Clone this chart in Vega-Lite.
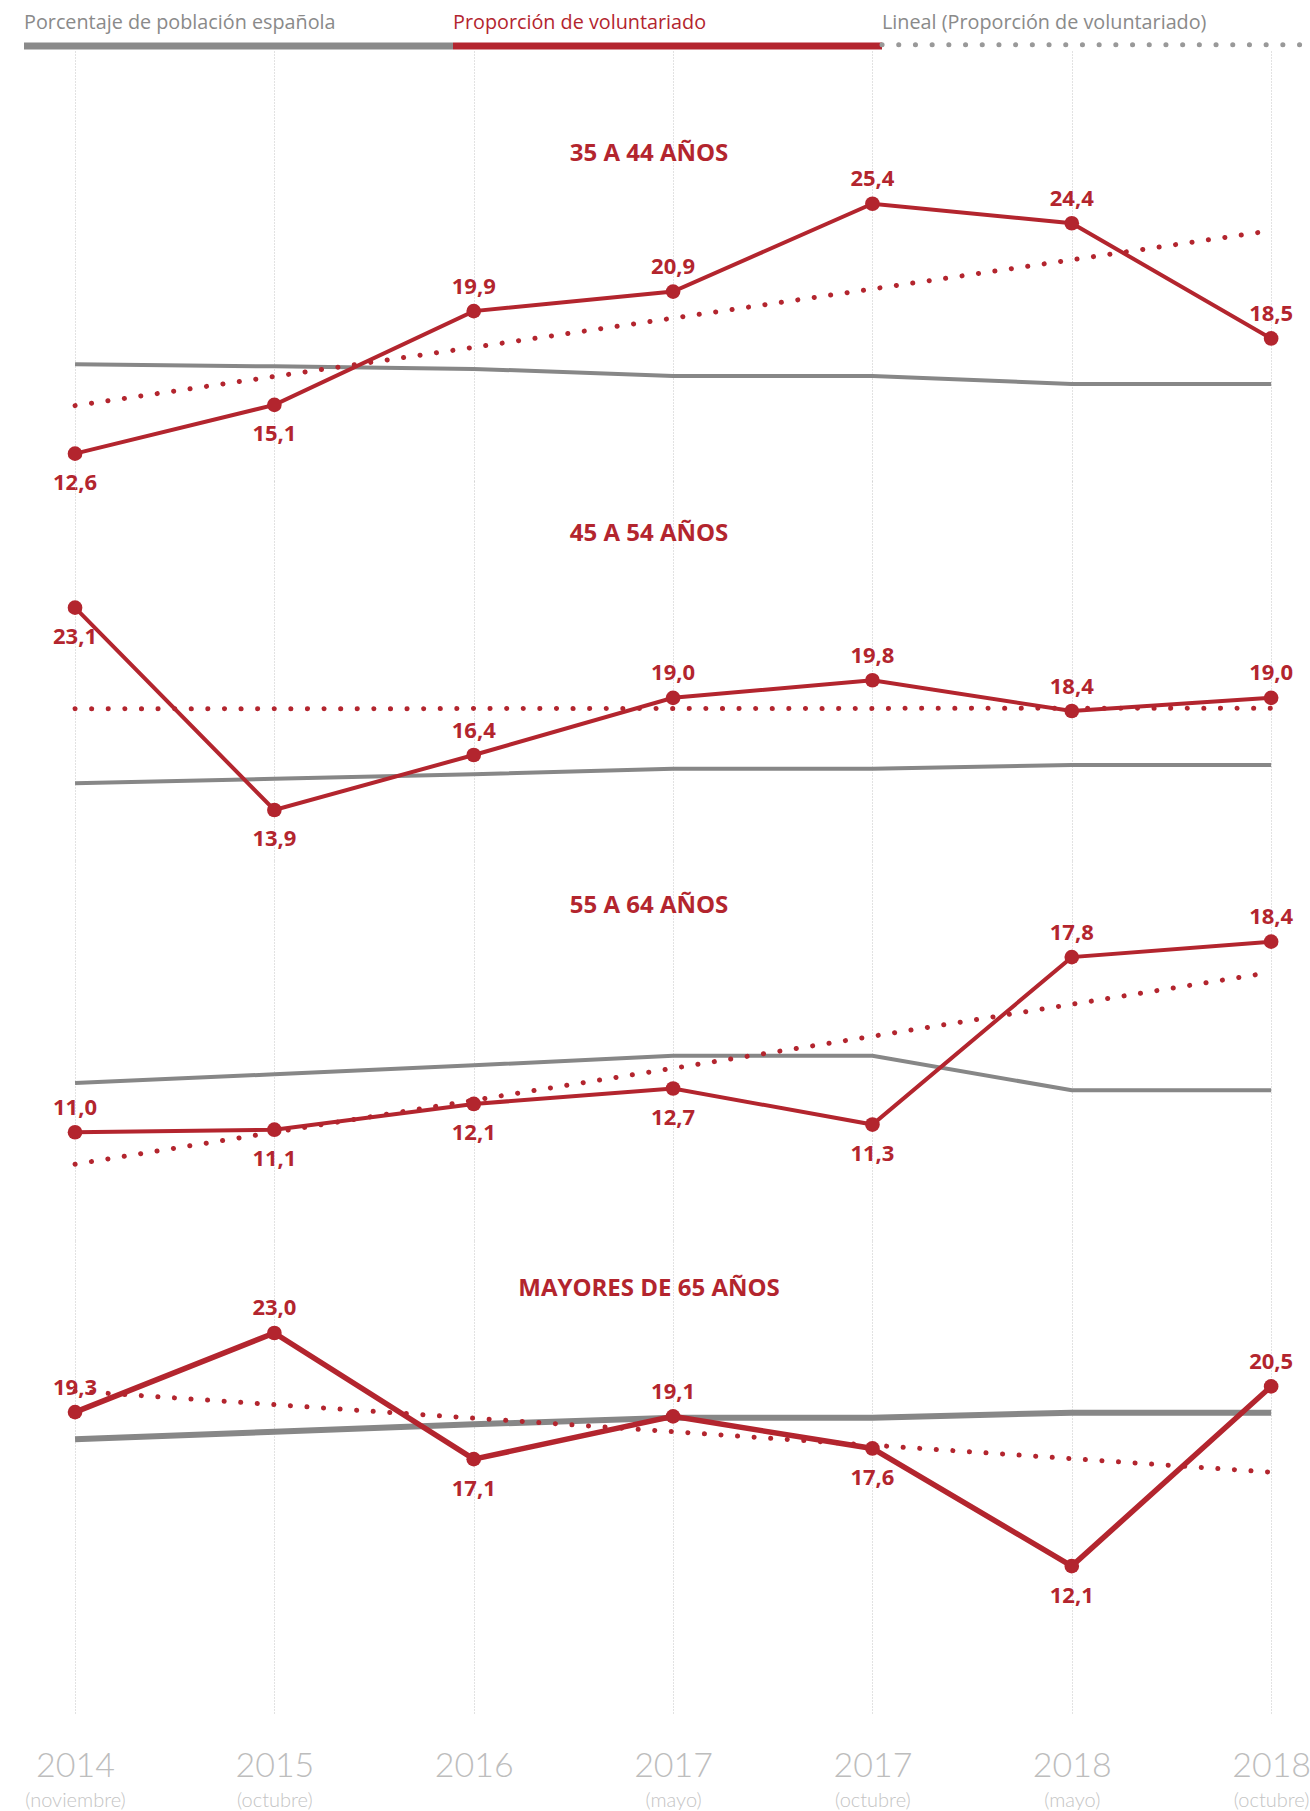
{
  "$schema": "https://vega.github.io/schema/vega-lite/v6.json",
  "background": "white",
  "padding": {"left": 23, "right": 0, "top": 0, "bottom": 2},
  "spacing": 0,
  "bounds": "flush",
  "resolve": {"scale": {"x": "independent", "y": "independent", "color": "independent"}},
  "config": {
    "view": {"stroke": "transparent"},
    "locale": {"number": {"decimal": ",", "thousands": ".", "grouping": [3], "currency": ["", " €"]}},
    "axisX": {"grid": true, "gridDash": [1, 2], "gridColor": "#c4c4c4", "gridWidth": 1, "domain": false, "ticks": false, "tickSize": 0, "labels": false}
  },
  "datasets": {
    "leyenda": [
      {"serie": "Porcentaje de población española"},
      {"serie": "Proporción de voluntariado"},
      {"serie": "Lineal (Proporción de voluntariado)"}
    ],
    "series": [
      {"panel": "35 A 44 AÑOS", "i": 0, "periodo": "2014 (noviembre)", "voluntariado": 12.6, "poblacion": 17.18},
      {"panel": "35 A 44 AÑOS", "i": 1, "periodo": "2015 (octubre)", "voluntariado": 15.1, "poblacion": 17.07},
      {"panel": "35 A 44 AÑOS", "i": 2, "periodo": "2016", "voluntariado": 19.9, "poblacion": 16.94},
      {"panel": "35 A 44 AÑOS", "i": 3, "periodo": "2017 (mayo)", "voluntariado": 20.9, "poblacion": 16.58},
      {"panel": "35 A 44 AÑOS", "i": 4, "periodo": "2017 (octubre)", "voluntariado": 25.4, "poblacion": 16.58},
      {"panel": "35 A 44 AÑOS", "i": 5, "periodo": "2018 (mayo)", "voluntariado": 24.4, "poblacion": 16.17},
      {"panel": "35 A 44 AÑOS", "i": 6, "periodo": "2018 (octubre)", "voluntariado": 18.5, "poblacion": 16.17},
      {"panel": "45 A 54 AÑOS", "i": 0, "periodo": "2014 (noviembre)", "voluntariado": 23.1, "poblacion": 15.11},
      {"panel": "45 A 54 AÑOS", "i": 1, "periodo": "2015 (octubre)", "voluntariado": 13.9, "poblacion": 15.32},
      {"panel": "45 A 54 AÑOS", "i": 2, "periodo": "2016", "voluntariado": 16.4, "poblacion": 15.52},
      {"panel": "45 A 54 AÑOS", "i": 3, "periodo": "2017 (mayo)", "voluntariado": 19.0, "poblacion": 15.78},
      {"panel": "45 A 54 AÑOS", "i": 4, "periodo": "2017 (octubre)", "voluntariado": 19.8, "poblacion": 15.78},
      {"panel": "45 A 54 AÑOS", "i": 5, "periodo": "2018 (mayo)", "voluntariado": 18.4, "poblacion": 15.95},
      {"panel": "45 A 54 AÑOS", "i": 6, "periodo": "2018 (octubre)", "voluntariado": 19.0, "poblacion": 15.95},
      {"panel": "55 A 64 AÑOS", "i": 0, "periodo": "2014 (noviembre)", "voluntariado": 11.0, "poblacion": 12.91},
      {"panel": "55 A 64 AÑOS", "i": 1, "periodo": "2015 (octubre)", "voluntariado": 11.1, "poblacion": 13.25},
      {"panel": "55 A 64 AÑOS", "i": 2, "periodo": "2016", "voluntariado": 12.1, "poblacion": 13.6},
      {"panel": "55 A 64 AÑOS", "i": 3, "periodo": "2017 (mayo)", "voluntariado": 12.7, "poblacion": 13.97},
      {"panel": "55 A 64 AÑOS", "i": 4, "periodo": "2017 (octubre)", "voluntariado": 11.3, "poblacion": 13.97},
      {"panel": "55 A 64 AÑOS", "i": 5, "periodo": "2018 (mayo)", "voluntariado": 17.8, "poblacion": 12.63},
      {"panel": "55 A 64 AÑOS", "i": 6, "periodo": "2018 (octubre)", "voluntariado": 18.4, "poblacion": 12.63},
      {"panel": "MAYORES DE 65 AÑOS", "i": 0, "periodo": "2014 (noviembre)", "voluntariado": 19.3, "poblacion": 18.03},
      {"panel": "MAYORES DE 65 AÑOS", "i": 1, "periodo": "2015 (octubre)", "voluntariado": 23.0, "poblacion": 18.38},
      {"panel": "MAYORES DE 65 AÑOS", "i": 2, "periodo": "2016", "voluntariado": 17.1, "poblacion": 18.73},
      {"panel": "MAYORES DE 65 AÑOS", "i": 3, "periodo": "2017 (mayo)", "voluntariado": 19.1, "poblacion": 19.04},
      {"panel": "MAYORES DE 65 AÑOS", "i": 4, "periodo": "2017 (octubre)", "voluntariado": 17.6, "poblacion": 19.04},
      {"panel": "MAYORES DE 65 AÑOS", "i": 5, "periodo": "2018 (mayo)", "voluntariado": 12.1, "poblacion": 19.27},
      {"panel": "MAYORES DE 65 AÑOS", "i": 6, "periodo": "2018 (octubre)", "voluntariado": 20.5, "poblacion": 19.27}
    ],
    "tendencia": [
      {"panel": "35 A 44 AÑOS", "i": 0, "lineal": 15.06},
      {"panel": "35 A 44 AÑOS", "i": 6, "lineal": 24.02},
      {"panel": "45 A 54 AÑOS", "i": 0, "lineal": 18.5},
      {"panel": "45 A 54 AÑOS", "i": 6, "lineal": 18.53},
      {"panel": "55 A 64 AÑOS", "i": 0, "lineal": 9.76},
      {"panel": "55 A 64 AÑOS", "i": 6, "lineal": 17.21},
      {"panel": "MAYORES DE 65 AÑOS", "i": 0, "lineal": 20.28},
      {"panel": "MAYORES DE 65 AÑOS", "i": 6, "lineal": 16.49}
    ]
  },
  "vconcat": [
    {
      "width": 1287,
      "height": 50,
      "data": {"name": "leyenda"},
      "layer": [
        {
          "mark": {"type": "text", "align": "left", "baseline": "alphabetic", "font": "Open Sans", "fontSize": 19.8},
          "encoding": {
            "x": {"field": "serie", "type": "nominal", "sort": null, "bandPosition": 0, "scale": {"padding": 0}, "axis": null},
            "y": {"datum": 4.46, "type": "quantitative", "scale": {"domain": [0, 10], "nice": false, "zero": false}, "axis": null},
            "text": {"field": "serie", "type": "nominal"},
            "color": {"field": "serie", "type": "nominal", "sort": null, "scale": {"domain": ["Porcentaje de población española", "Proporción de voluntariado", "Lineal (Proporción de voluntariado)"], "range": ["#8a8a8a", "#b3252e", "#8a8a8a"]}, "legend": null}
          }
        },
        {
          "transform": [{"filter": "datum.serie !== 'Lineal (Proporción de voluntariado)'"}],
          "mark": {"type": "bar"},
          "encoding": {
            "x": {"field": "serie", "type": "nominal", "sort": null, "axis": null},
            "y": {"datum": 1.7, "type": "quantitative"},
            "y2": {"datum": 0.3},
            "color": {"field": "serie", "type": "nominal", "sort": null, "scale": {"domain": ["Porcentaje de población española", "Proporción de voluntariado", "Lineal (Proporción de voluntariado)"], "range": ["#878787", "#b3252e", "#9a9a9a"]}, "legend": null}
          }
        },
        {
          "transform": [{"filter": "datum.serie === 'Lineal (Proporción de voluntariado)'"}],
          "mark": {"type": "rule", "color": "#999999", "strokeWidth": 5, "strokeDash": [0.1, 16.6], "strokeCap": "round"},
          "encoding": {
            "x": {"field": "serie", "type": "nominal", "sort": null, "bandPosition": 0, "axis": null},
            "x2": {"field": "serie", "bandPosition": 1},
            "y": {"datum": 1.26, "type": "quantitative"}
          }
        }
      ]
    },
    {
      "width": 1287,
      "height": 430,
      "title": {"text": "35 A 44 AÑOS", "anchor": "middle", "frame": "group", "orient": "top", "offset": -133.7, "dx": -18.5, "baseline": "alphabetic", "font": "Open Sans", "fontSize": 24, "fontWeight": "bold", "color": "#b3252e"},
      "data": {"name": "series"},
      "transform": [{"filter": "datum.panel === '35 A 44 AÑOS'"}],
      "encoding": {
        "x": {"field": "i", "type": "quantitative", "scale": {"domain": [-0.256, 6.2], "nice": false, "zero": false}, "axis": {"values": [0, 1, 2, 3, 4, 5, 6], "title": null}}
      },
      "layer": [
        {"mark": {"type": "line", "color": "#878787", "strokeWidth": 4}, "encoding": {"y": {"field": "poblacion", "type": "quantitative", "scale": {"domain": [11.2, 33.22], "nice": false, "zero": false}, "axis": null}}},
        {"data": {"name": "tendencia"}, "transform": [{"filter": "datum.panel === '35 A 44 AÑOS'"}], "mark": {"type": "line", "color": "#b3252e", "strokeWidth": 5, "strokeDash": [0.1, 16.5], "strokeCap": "round"}, "encoding": {"y": {"field": "lineal", "type": "quantitative", "axis": null}}},
        {"mark": {"type": "line", "color": "#b3252e", "strokeWidth": 4}, "encoding": {"y": {"field": "voluntariado", "type": "quantitative", "axis": null}}},
        {"mark": {"type": "circle", "color": "#b3252e", "size": 215, "opacity": 1}, "encoding": {"y": {"field": "voluntariado", "type": "quantitative", "axis": null}}},
        {"transform": [{"filter": "indexof([0, 1], datum.i) < 0"}], "mark": {"type": "text", "color": "#b3252e", "font": "Open Sans", "fontSize": 22, "fontWeight": "bold", "baseline": "alphabetic", "dy": -17.5}, "encoding": {"y": {"field": "voluntariado", "type": "quantitative", "axis": null}, "text": {"field": "voluntariado", "type": "quantitative", "format": ".1f"}}},
        {"transform": [{"filter": "indexof([0, 1], datum.i) >= 0"}], "mark": {"type": "text", "color": "#b3252e", "font": "Open Sans", "fontSize": 22, "fontWeight": "bold", "baseline": "alphabetic", "dy": 36.5}, "encoding": {"y": {"field": "voluntariado", "type": "quantitative", "axis": null}, "text": {"field": "voluntariado", "type": "quantitative", "format": ".1f"}}}
      ]
    },
    {
      "width": 1287,
      "height": 380,
      "title": {"text": "45 A 54 AÑOS", "anchor": "middle", "frame": "group", "orient": "top", "offset": -83.5, "dx": -18.5, "baseline": "alphabetic", "font": "Open Sans", "fontSize": 24, "fontWeight": "bold", "color": "#b3252e"},
      "data": {"name": "series"},
      "transform": [{"filter": "datum.panel === '45 A 54 AÑOS'"}],
      "encoding": {
        "x": {"field": "i", "type": "quantitative", "scale": {"domain": [-0.256, 6.2], "nice": false, "zero": false}, "axis": {"values": [0, 1, 2, 3, 4, 5, 6], "title": null}}
      },
      "layer": [
        {"mark": {"type": "line", "color": "#878787", "strokeWidth": 4}, "encoding": {"y": {"field": "poblacion", "type": "quantitative", "scale": {"domain": [11.58, 28.86], "nice": false, "zero": false}, "axis": null}}},
        {"data": {"name": "tendencia"}, "transform": [{"filter": "datum.panel === '45 A 54 AÑOS'"}], "mark": {"type": "line", "color": "#b3252e", "strokeWidth": 5, "strokeDash": [0.1, 16.5], "strokeCap": "round"}, "encoding": {"y": {"field": "lineal", "type": "quantitative", "axis": null}}},
        {"mark": {"type": "line", "color": "#b3252e", "strokeWidth": 4}, "encoding": {"y": {"field": "voluntariado", "type": "quantitative", "axis": null}}},
        {"mark": {"type": "circle", "color": "#b3252e", "size": 215, "opacity": 1}, "encoding": {"y": {"field": "voluntariado", "type": "quantitative", "axis": null}}},
        {"transform": [{"filter": "indexof([0, 1], datum.i) < 0"}], "mark": {"type": "text", "color": "#b3252e", "font": "Open Sans", "fontSize": 22, "fontWeight": "bold", "baseline": "alphabetic", "dy": -17.5}, "encoding": {"y": {"field": "voluntariado", "type": "quantitative", "axis": null}, "text": {"field": "voluntariado", "type": "quantitative", "format": ".1f"}}},
        {"transform": [{"filter": "indexof([0, 1], datum.i) >= 0"}], "mark": {"type": "text", "color": "#b3252e", "font": "Open Sans", "fontSize": 22, "fontWeight": "bold", "baseline": "alphabetic", "dy": 36.5}, "encoding": {"y": {"field": "voluntariado", "type": "quantitative", "axis": null}, "text": {"field": "voluntariado", "type": "quantitative", "format": ".1f"}}}
      ]
    },
    {
      "width": 1287,
      "height": 380,
      "title": {"text": "55 A 64 AÑOS", "anchor": "middle", "frame": "group", "orient": "top", "offset": -75.8, "dx": -18.5, "baseline": "alphabetic", "font": "Open Sans", "fontSize": 24, "fontWeight": "bold", "color": "#b3252e"},
      "data": {"name": "series"},
      "transform": [{"filter": "datum.panel === '55 A 64 AÑOS'"}],
      "encoding": {
        "x": {"field": "i", "type": "quantitative", "scale": {"domain": [-0.256, 6.2], "nice": false, "zero": false}, "axis": {"values": [0, 1, 2, 3, 4, 5, 6], "title": null}}
      },
      "layer": [
        {"mark": {"type": "line", "color": "#878787", "strokeWidth": 4}, "encoding": {"y": {"field": "poblacion", "type": "quantitative", "scale": {"domain": [6.78, 21.53], "nice": false, "zero": false}, "axis": null}}},
        {"data": {"name": "tendencia"}, "transform": [{"filter": "datum.panel === '55 A 64 AÑOS'"}], "mark": {"type": "line", "color": "#b3252e", "strokeWidth": 5, "strokeDash": [0.1, 16.5], "strokeCap": "round"}, "encoding": {"y": {"field": "lineal", "type": "quantitative", "axis": null}}},
        {"mark": {"type": "line", "color": "#b3252e", "strokeWidth": 4}, "encoding": {"y": {"field": "voluntariado", "type": "quantitative", "axis": null}}},
        {"mark": {"type": "circle", "color": "#b3252e", "size": 215, "opacity": 1}, "encoding": {"y": {"field": "voluntariado", "type": "quantitative", "axis": null}}},
        {"transform": [{"filter": "indexof([1, 2, 3, 4], datum.i) < 0"}], "mark": {"type": "text", "color": "#b3252e", "font": "Open Sans", "fontSize": 22, "fontWeight": "bold", "baseline": "alphabetic", "dy": -17.5}, "encoding": {"y": {"field": "voluntariado", "type": "quantitative", "axis": null}, "text": {"field": "voluntariado", "type": "quantitative", "format": ".1f"}}},
        {"transform": [{"filter": "indexof([1, 2, 3, 4], datum.i) >= 0"}], "mark": {"type": "text", "color": "#b3252e", "font": "Open Sans", "fontSize": 22, "fontWeight": "bold", "baseline": "alphabetic", "dy": 36.5}, "encoding": {"y": {"field": "voluntariado", "type": "quantitative", "axis": null}, "text": {"field": "voluntariado", "type": "quantitative", "format": ".1f"}}}
      ]
    },
    {
      "width": 1287,
      "height": 472,
      "title": {"text": "MAYORES DE 65 AÑOS", "anchor": "middle", "frame": "group", "orient": "top", "offset": -78.8, "dx": -18.5, "baseline": "alphabetic", "font": "Open Sans", "fontSize": 24, "fontWeight": "bold", "color": "#b3252e"},
      "resolve": {"axis": {"x": "independent"}},
      "layer": [
        {
          "data": {"name": "series"},
          "transform": [{"filter": "datum.panel === 'MAYORES DE 65 AÑOS'"}],
          "mark": {"type": "line", "color": "#878787", "strokeWidth": 6},
          "encoding": {
            "x": {"field": "i", "type": "quantitative", "scale": {"domain": [-0.256, 6.2], "nice": false, "zero": false}, "axis": {"orient": "bottom", "values": [0, 1, 2, 3, 4, 5, 6], "title": null, "grid": false, "labels": true, "labelExpr": "['(noviembre)', '(octubre)', '', '(mayo)', '(octubre)', '(mayo)', '(octubre)'][datum.value]", "labelFont": "Lato", "labelFontWeight": 300, "labelFontSize": 20, "labelColor": "#c4c4c4", "labelPadding": 93, "labelBaseline": "alphabetic", "labelFlush": false, "labelOverlap": false}},
            "y": {"field": "poblacion", "type": "quantitative", "scale": {"domain": [5.23, 27.3], "nice": false, "zero": false}, "axis": null}
          }
        },
        {
          "data": {"name": "series"},
          "transform": [{"filter": "datum.panel === 'MAYORES DE 65 AÑOS'"}],
          "encoding": {
            "x": {"field": "i", "type": "quantitative", "axis": {"orient": "bottom", "values": [0, 1, 2, 3, 4, 5, 6], "title": null, "grid": true, "labels": true, "labelExpr": "['2014', '2015', '2016', '2017', '2017', '2018', '2018'][datum.value]", "labelFont": "Lato", "labelFontWeight": 300, "labelFontSize": 34, "labelColor": "#bdbdbd", "labelPadding": 63, "labelBaseline": "alphabetic", "labelFlush": false, "labelOverlap": false}}
          },
          "layer": [
            {"data": {"name": "tendencia"}, "transform": [{"filter": "datum.panel === 'MAYORES DE 65 AÑOS'"}], "mark": {"type": "line", "color": "#b3252e", "strokeWidth": 5, "strokeDash": [0.1, 16.5], "strokeCap": "round"}, "encoding": {"y": {"field": "lineal", "type": "quantitative", "axis": null}}},
            {"mark": {"type": "line", "color": "#b3252e", "strokeWidth": 5.5}, "encoding": {"y": {"field": "voluntariado", "type": "quantitative", "axis": null}}},
            {"mark": {"type": "circle", "color": "#b3252e", "size": 215, "opacity": 1}, "encoding": {"y": {"field": "voluntariado", "type": "quantitative", "axis": null}}},
            {"transform": [{"filter": "indexof([2, 4, 5], datum.i) < 0"}], "mark": {"type": "text", "color": "#b3252e", "font": "Open Sans", "fontSize": 22, "fontWeight": "bold", "baseline": "alphabetic", "dy": -17.5}, "encoding": {"y": {"field": "voluntariado", "type": "quantitative", "axis": null}, "text": {"field": "voluntariado", "type": "quantitative", "format": ".1f"}}},
            {"transform": [{"filter": "indexof([2, 4, 5], datum.i) >= 0"}], "mark": {"type": "text", "color": "#b3252e", "font": "Open Sans", "fontSize": 22, "fontWeight": "bold", "baseline": "alphabetic", "dy": 36.5}, "encoding": {"y": {"field": "voluntariado", "type": "quantitative", "axis": null}, "text": {"field": "voluntariado", "type": "quantitative", "format": ".1f"}}}
          ]
        }
      ]
    }
  ]
}
